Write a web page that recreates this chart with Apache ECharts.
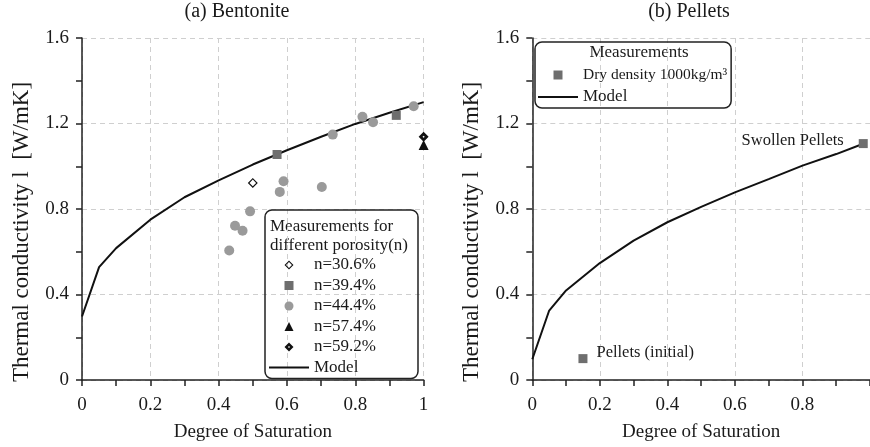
<!DOCTYPE html>
<html><head><meta charset="utf-8">
<script src="https://cdn.jsdelivr.net/npm/echarts@6/dist/echarts.min.js"></script>
<style>html,body{margin:0;padding:0;background:#fff}#c{width:870px;height:447px}</style>
</head><body><div id="c"></div>
<script>
// ---------- data ----------
const panelTitles = ['(a) Bentonite', '(b) Pellets'];
const xAxisName = 'Degree of Saturation';
const yAxisName = 'Thermal conductivity l  [W/mK]';

// (a) Bentonite model curve
const bentoniteModelX = [0, 0.05, 0.1, 0.2, 0.3, 0.4, 0.5, 0.6, 0.7, 0.8, 0.9, 1.0];
const bentoniteModelY = [0.297, 0.528, 0.617, 0.75, 0.855, 0.934, 1.008, 1.075, 1.138, 1.198, 1.25, 1.30];

// (a) measurements by porosity
const n306 = [[0.50, 0.922]];
const n394 = [[0.571, 1.055], [0.92, 1.238]];
const n444 = [[0.431, 0.606], [0.448, 0.722], [0.47, 0.698], [0.492, 0.789], [0.579, 0.88], [0.59, 0.93],
              [0.702, 0.903], [0.734, 1.148], [0.821, 1.231], [0.852, 1.206], [0.971, 1.281]];
const n574 = [[1.0, 1.10]];
const n592 = [[1.0, 1.1375]];
const porosityNames = ['n=30.6%', 'n=39.4%', 'n=44.4%', 'n=57.4%', 'n=59.2%'];

// (b) Pellets model curve
const pelletModelX = [0, 0.05, 0.1, 0.2, 0.3, 0.4, 0.5, 0.6, 0.7, 0.8, 0.9, 0.98];
const pelletModelY = [0.097, 0.325, 0.419, 0.547, 0.652, 0.738, 0.81, 0.878, 0.94, 1.003, 1.057, 1.105];

// (b) Pellet measurements
const pelletNames = ['Pellets (initial)', 'Swollen Pellets'];
const pelletX = [0.15, 0.98];
const pelletY = [0.10, 1.106];
const pelletSeriesName = 'Dry density 1000kg/m³';

const legendTitleA = ['Measurements for', 'different porosity(n)'];
const legendTitleB = 'Measurements';

// ---------- styling ----------
const FONT = '"Liberation Serif", "Times New Roman", serif';
const TXT = '#1a1a1a';
const AX = '#222';
// open diamond (thin outline) and bold diamond with small white centre, drawn as filled paths with holes
const SYM_OPEN_DIAMOND = 'path://M5,0L10,5L5,10L0,5Z M5,1.7L1.7,5L5,8.3L8.3,5Z';
const SYM_BOLD_DIAMOND = 'path://M5,0L10,5L5,10L0,5Z M5,3.9L3.9,5L5,6.1L6.1,5Z';
const ICON_SQUARE = 'path://M0,0H10V10H0Z';
const ICON_TRIANGLE = 'path://M5,0L10,10L0,10Z';
const ICON_LINE = 'path://M0,0H40V2H0Z';

function zip(xs, ys) { return xs.map((x, i) => [x, ys[i]]); }

function makeX(gridIndex, hideOne) {
  return {
    type: 'value', gridIndex, min: 0, max: 1, interval: 0.2,
    name: xAxisName, nameLocation: 'middle', nameGap: 43,
    nameTextStyle: { fontFamily: FONT, fontSize: 19, color: TXT },
    axisLine: { show: true, onZero: false, lineStyle: { color: AX, width: 1.5 } },
    axisTick: { show: true, inside: false, length: 6, lineStyle: { color: AX, width: 1.5 } },
    minorTick: { show: true, splitNumber: 2, length: 6, lineStyle: { color: AX, width: 1.5 } },
    axisLabel: {
      fontFamily: FONT, fontSize: 19, color: TXT, margin: 16,
      showMaxLabel: !hideOne,
      formatter: v => (hideOne && v === 1) ? '' : String(+v.toFixed(1))
    },
    splitLine: { show: true, lineStyle: { color: '#cfcfcf', width: 1, type: [5, 4] } }
  };
}
function makeY(gridIndex) {
  return {
    type: 'value', gridIndex, min: 0, max: 1.6, interval: 0.4,
    name: yAxisName, nameLocation: 'middle', nameGap: 49,
    nameTextStyle: { fontFamily: FONT, fontSize: 23, color: TXT, padding: [0, 46, 0, 0] },
    axisLine: { show: true, onZero: false, lineStyle: { color: AX, width: 1.5 } },
    axisTick: { show: true, inside: false, length: 6, lineStyle: { color: AX, width: 1.5 } },
    minorTick: { show: true, splitNumber: 2, length: 6, lineStyle: { color: AX, width: 1.5 } },
    axisLabel: { fontFamily: FONT, fontSize: 19, color: TXT, margin: 13,
      formatter: v => String(+v.toFixed(1)) },
    splitLine: { show: true, lineStyle: { color: '#cfcfcf', width: 1, type: [5, 4] } }
  };
}

const pelletData = pelletNames.map((nm, i) => ({
  name: nm, value: [pelletX[i], pelletY[i]],
  label: i === 0
    ? { show: true, position: 'right', distance: 9, offset: [0, -6] }
    : { show: true, position: 'left', distance: 15, offset: [0, -3] }
}));

const legendIcons = {};
legendIcons[porosityNames[0]] = SYM_OPEN_DIAMOND;
legendIcons[porosityNames[1]] = ICON_SQUARE;
legendIcons[porosityNames[2]] = 'circle';
legendIcons[porosityNames[3]] = ICON_TRIANGLE;
legendIcons[porosityNames[4]] = SYM_BOLD_DIAMOND;
legendIcons[pelletSeriesName] = ICON_SQUARE;
legendIcons['Model'] = ICON_LINE;
const legendItems = names => names.map(n => ({ name: n, icon: legendIcons[n] }));

const option = {
  animation: false,
  backgroundColor: '#fff',
  textStyle: { fontFamily: FONT },
  grid: [
    { left: 82, top: 38, width: 341.6, height: 342 },
    { left: 532.3, top: 38, width: 341, height: 342 }
  ],
  xAxis: [makeX(0, false), makeX(1, true)],
  yAxis: [makeY(0), makeY(1)],
  legend: [
    {
      data: legendItems(porosityNames.concat(['Model'])),
      orient: 'vertical', left: 265, top: 210,
      padding: [45, 42, 1, 4], itemWidth: 40, itemHeight: 9, itemGap: 0.5,
      symbolKeepAspect: true,
      itemStyle: { borderWidth: 0 },
      borderColor: AX, borderWidth: 1.5, borderRadius: 7, selectedMode: false,
      textStyle: { fontFamily: FONT, fontSize: 17, color: TXT, lineHeight: 20 }
    },
    {
      data: legendItems([pelletSeriesName, 'Model']),
      orient: 'vertical', left: 535, top: 42,
      padding: [23, 4, 1, 3], itemWidth: 40, itemHeight: 9, itemGap: 2,
      symbolKeepAspect: true,
      itemStyle: { borderWidth: 0 },
      borderColor: AX, borderWidth: 1.5, borderRadius: 7, selectedMode: false,
      formatter: n => n === pelletSeriesName ? '{s|' + n + '}' : n,
      textStyle: { fontFamily: FONT, fontSize: 17, color: TXT, lineHeight: 20,
        rich: { s: { fontFamily: FONT, fontSize: 15.5, color: TXT, lineHeight: 20 } } }
    }
  ],
  graphic: [
    { type: 'text', x: 237, y: 12, style: { text: panelTitles[0], font: '20px ' + FONT, fill: TXT, textAlign: 'center', textVerticalAlign: 'middle' } },
    { type: 'text', x: 689, y: 12, style: { text: panelTitles[1], font: '20px ' + FONT, fill: TXT, textAlign: 'center', textVerticalAlign: 'middle' } },
    { type: 'text', x: 270, y: 227, style: { text: legendTitleA[0], font: '17px ' + FONT, fill: TXT, textAlign: 'left', textVerticalAlign: 'middle' } },
    { type: 'text', x: 270, y: 246, style: { text: legendTitleA[1], font: '17px ' + FONT, fill: TXT, textAlign: 'left', textVerticalAlign: 'middle' } },
    { type: 'text', x: 639, y: 53, style: { text: legendTitleB, font: '17px ' + FONT, fill: TXT, textAlign: 'center', textVerticalAlign: 'middle' } }
  ],
  series: [
    { name: 'Model', type: 'line', xAxisIndex: 0, yAxisIndex: 0, data: zip(bentoniteModelX, bentoniteModelY),
      symbol: 'none', lineStyle: { color: '#111', width: 2 }, itemStyle: { color: '#111' }, z: 2 },
    { name: porosityNames[0], type: 'scatter', xAxisIndex: 0, yAxisIndex: 0, data: n306, clip: false,
      symbol: SYM_OPEN_DIAMOND, symbolSize: 10, itemStyle: { color: '#111', opacity: 1 }, z: 3 },
    { name: porosityNames[1], type: 'scatter', xAxisIndex: 0, yAxisIndex: 0, data: n394, clip: false,
      symbol: 'rect', symbolSize: 9, itemStyle: { color: '#6e6e6e', opacity: 1 }, z: 3 },
    { name: porosityNames[2], type: 'scatter', xAxisIndex: 0, yAxisIndex: 0, data: n444, clip: false,
      symbol: 'circle', symbolSize: 10, itemStyle: { color: '#9a9a9a', opacity: 1 }, z: 3 },
    { name: porosityNames[3], type: 'scatter', xAxisIndex: 0, yAxisIndex: 0, data: n574, clip: false,
      symbol: 'triangle', symbolSize: 10, itemStyle: { color: '#111', opacity: 1 }, z: 3 },
    { name: porosityNames[4], type: 'scatter', xAxisIndex: 0, yAxisIndex: 0, data: n592, clip: false,
      symbol: SYM_BOLD_DIAMOND, symbolSize: 10, itemStyle: { color: '#111', opacity: 1 }, z: 4 },

    { name: 'Model', type: 'line', xAxisIndex: 1, yAxisIndex: 1, data: zip(pelletModelX, pelletModelY),
      symbol: 'none', lineStyle: { color: '#111', width: 2 }, itemStyle: { color: '#111' }, z: 2 },
    { name: pelletSeriesName, type: 'scatter', xAxisIndex: 1, yAxisIndex: 1, data: pelletData, clip: false,
      symbol: 'rect', symbolSize: 9, itemStyle: { color: '#6e6e6e', opacity: 1 },
      label: { fontFamily: FONT, fontSize: 16.5, color: TXT, formatter: p => p.name }, z: 3 }
  ]
};

const chart = echarts.init(document.getElementById('c'), null, { renderer: 'canvas' });
chart.setOption(option);
</script>
</body></html>
